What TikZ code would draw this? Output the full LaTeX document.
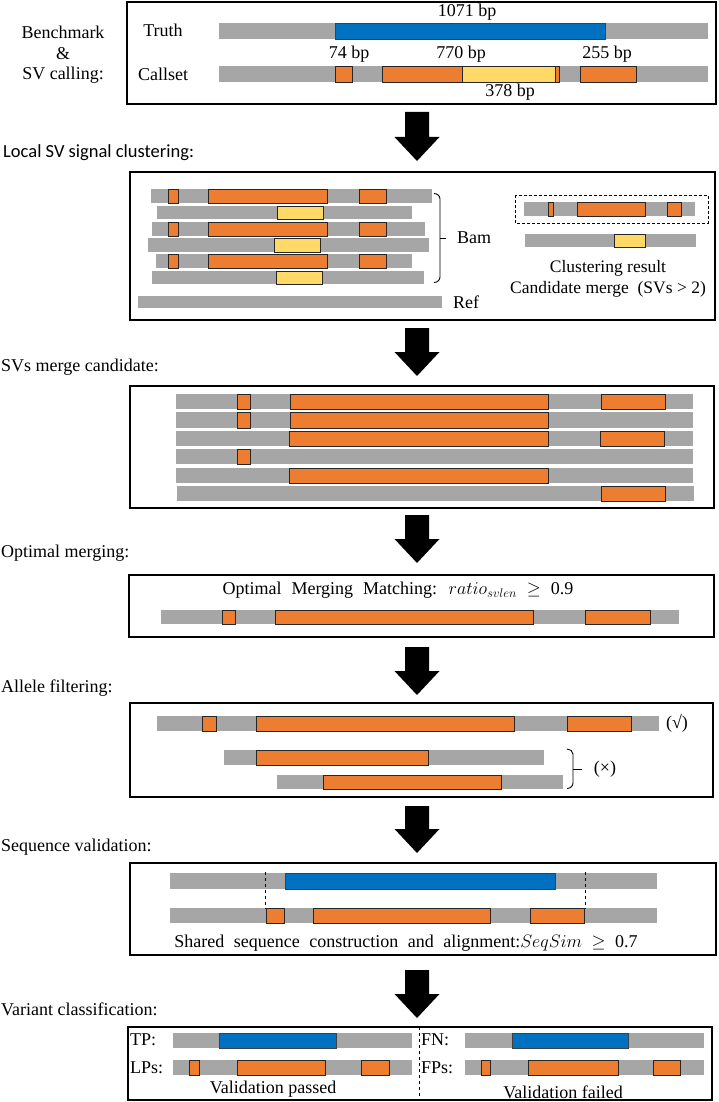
\documentclass[tikz,border=0pt]{standalone}
\usepackage{fix-cm}
\usepackage{fontspec}
\setmainfont{Liberation Serif}
\newfontfamily\calibrifont{Carlito}
\definecolor{grc}{HTML}{A6A6A6}
\definecolor{orc}{HTML}{ED7D31}
\definecolor{ylc}{HTML}{FFD966}
\definecolor{blc}{HTML}{0070C0}
\tikzset{
  graybar/.style={fill=grc},
  orangebox/.style={fill=orc, draw=black!85, line width=0.8pt},
  yellowbox/.style={fill=ylc, draw=black!85, line width=0.8pt},
  bluebox/.style={fill=blc, draw=black!75, line width=0.6pt},
  panel/.style={draw=black, line width=1.4pt},
  lbl/.style={font=\fontsize{18}{20}\selectfont, inner sep=0pt},
  sec/.style={lbl, anchor=west},
  blockarrow/.style={fill=black},
}
\newcommand\Gseg[4]{\fill[graybar] (#1,#3) rectangle (#2,#4);}
\newcommand\Oseg[4]{\filldraw[orangebox] (#1,#3) rectangle (#2,#4);}
\newcommand\Yseg[4]{\filldraw[yellowbox] (#1,#3) rectangle (#2,#4);}
\newcommand\Bseg[4]{\filldraw[bluebox] (#1,#3) rectangle (#2,#4);}
\newcommand\BigDownArrow[2]{\fill[blockarrow] (405,#1) -- (429,#1) -- (429,{#2-24}) -- (439.5,{#2-24}) -- (417,#2) -- (394.5,{#2-24}) -- (405,{#2-24}) -- cycle;}
\begin{document}
\begin{tikzpicture}[x=1pt,y=-1pt]
\useasboundingbox (0,0) rectangle (718,1102);
\fill[white] (0,0) rectangle (718,1102);

% ---------- Panel 1: Benchmark & SV calling
\draw[panel] (127,2) rectangle (716,104);
\node[lbl] (bm1) at (63,32) {Benchmark};
\node[lbl] (bm2) at (63,54) {\&};
\node[lbl] (bm3) at (63,75) {SV calling:};
\node[lbl] (truth) at (163,30) {Truth};
\node[lbl] (callset) at (163,74) {Callset};
\Gseg{219}{708}{23}{39}
\Bseg{335}{605}{23}{39}
\node[lbl] (l1071) at (467,12) {1071 bp};
\Gseg{219}{708}{66}{82}
\Oseg{335}{352.5}{66}{82}
\Oseg{382}{462}{66}{82}
\Yseg{462}{555}{66}{82}
\Oseg{555}{559}{66}{82}
\Oseg{580}{636}{66}{82}
\node[lbl] (l74) at (349,54) {74 bp};
\node[lbl] (l770) at (461,54) {770 bp};
\node[lbl] (l255) at (607,54) {255 bp};
\node[lbl] (l378) at (510,92) {378 bp};

\BigDownArrow{112}{161}

% ---------- Panel 2: Local SV signal clustering
\node[sec, font=\calibrifont\fontsize{18.5}{20}\selectfont] (s2) at (3,153) {Local SV signal clustering:};
\draw[panel] (130,172) rectangle (715,320);
\Gseg{151}{432}{189}{203}
\Oseg{168}{178}{189}{203}\Oseg{208}{327}{189}{203}\Oseg{359}{386}{189}{203}
\Gseg{157}{412}{206}{219}
\Yseg{277.5}{323}{206}{219}
\Gseg{152}{425}{222}{236}
\Oseg{168}{178}{222}{236}\Oseg{208}{327}{222}{236}\Oseg{359}{386}{222}{236}
\Gseg{147.5}{429}{238}{252}
\Yseg{274}{320}{238}{252}
\Gseg{156}{412}{254}{268}
\Oseg{168}{178}{254}{268}\Oseg{208}{327}{254}{268}\Oseg{359}{386}{254}{268}
\Gseg{151.5}{423.6}{271}{284}
\Yseg{276.6}{322}{271}{284}
\Gseg{138}{442}{296}{308}
\draw[line width=0.9pt] (434,193.5) to[out=0,in=90] (440,199) -- (440,277) to[out=-90,in=0] (434,282.5);
\draw[line width=0.9pt] (440,238) -- (446,238);
\node[lbl] (bam) at (474,238) {Bam};
\node[lbl] (ref) at (466,302) {Ref};
\draw[densely dashed, line width=0.6pt] (515,195) rectangle (708,223);
\Gseg{524}{695}{202}{216}
\Oseg{548}{553}{202}{216}\Oseg{577}{645}{202}{216}\Oseg{667}{681}{202}{216}
\Gseg{525}{696}{234}{247}
\Yseg{614}{645}{234}{247}
\node[lbl, font=\fontsize{17.5}{20}\selectfont] (clres) at (608,268) {Clustering result};
\node[lbl, font=\fontsize{17.5}{20}\selectfont] (cand) at (608,289) {Candidate merge~~(SVs > 2)};

\BigDownArrow{328}{376}

% ---------- Panel 3: SVs merge candidate
\node[sec] (s3) at (1,367) {SVs merge candidate:};
\draw[panel] (130,386) rectangle (714,508);
\Gseg{176}{693}{394}{409}
\Oseg{237}{250.5}{394}{409}\Oseg{290}{548.6}{394}{409}\Oseg{601}{665}{394}{409}
\Gseg{176}{693}{412}{428}
\Oseg{237}{250.5}{412}{428}\Oseg{290}{548.6}{412}{428}
\Gseg{176}{693}{431}{446}
\Oseg{289}{548}{431}{446}\Oseg{600}{664}{431}{446}
\Gseg{176}{693}{449}{464}
\Oseg{237}{250.5}{449}{464}
\Gseg{176}{693}{468}{483}
\Oseg{289}{548}{468}{483}
\Gseg{177}{694}{486}{501}
\Oseg{601}{665}{486}{501}

\BigDownArrow{515}{563}

% ---------- Panel 4: Optimal merging
\node[sec] (s4) at (1,553) {Optimal merging:};
\draw[panel] (129,575) rectangle (714,637);
\node[lbl] (omm) at (398,590) {\spaceskip=10pt\relax Optimal Merging Matching: $ratio_{svlen}$ $\geq$ 0.9};
\Gseg{161}{679}{610}{624}
\Oseg{222}{235.5}{610}{624}\Oseg{275.5}{533}{610}{624}\Oseg{585}{650}{610}{624}

\BigDownArrow{647}{695}

% ---------- Panel 5: Allele filtering
\node[sec] (s5) at (1,688) {Allele filtering:};
\draw[panel] (130,703) rectangle (713,797);
\Gseg{157}{659}{716}{731}
\Oseg{202}{216}{716}{731}\Oseg{256}{514}{716}{731}\Oseg{567}{631}{716}{731}
\node[lbl] (ok) at (677,723) {(√)};
\Gseg{224}{544}{750}{765}
\Oseg{256}{428}{750}{765}
\Gseg{277}{563}{775}{789}
\Oseg{323}{501.5}{775}{789}
\draw[line width=0.9pt] (567,749) to[out=0,in=90] (573,754) -- (573,783) to[out=-90,in=0] (567,788.5);
\draw[line width=0.9pt] (573,769) -- (582,769);
\node[lbl] (bad) at (605,769) {(×)};

\BigDownArrow{806}{853}

% ---------- Panel 6: Sequence validation
\node[sec] (s6) at (1,847) {Sequence validation:};
\draw[panel] (130,863) rectangle (716,955);
\Gseg{170}{657}{873}{889}
\Bseg{285}{555}{873}{889}
\Gseg{170}{657}{908}{923}
\Oseg{266.5}{284}{908}{923}\Oseg{313}{490}{908}{923}\Oseg{530}{584}{908}{923}
\coordinate (d1a) at (265.6,872); \coordinate (d1b) at (265.6,909);
\coordinate (d2a) at (585,872); \coordinate (d2b) at (585,909);
\draw[dashed, line width=1pt] (d1a) -- (d1b);
\draw[dashed, line width=1pt] (d2a) -- (d2b);
\node[lbl] (shared) at (406,943) {\spaceskip=9.5pt\relax Shared sequence construction and alignment:$SeqSim$ $\geq$ 0.7};

\BigDownArrow{970}{1018}

% ---------- Panel 7: Variant classification
\node[sec] (s7) at (1,1009) {Variant classification:};
\draw[panel] (128,1027) rectangle (712,1100);
\coordinate (va) at (419,1027); \coordinate (vb) at (419,1100);
\draw[dashed, line width=1pt] (va) -- (vb);
\node[lbl, anchor=west] (tp) at (130,1040) {TP:};
\Gseg{173}{412}{1033}{1048}
\Bseg{219}{336}{1033}{1048}
\node[lbl, anchor=west] (lps) at (130,1068) {LPs:};
\Gseg{173}{412}{1060}{1075}
\Oseg{189}{199}{1060}{1075}\Oseg{237}{325}{1060}{1075}\Oseg{361}{389}{1060}{1075}
\node[lbl] (vpass) at (273,1089) {Validation passed};
\node[lbl, anchor=west] (fn) at (421,1040) {FN:};
\Gseg{465}{704}{1033}{1048}
\Bseg{512}{628}{1033}{1048}
\node[lbl, anchor=west] (fps) at (421,1068) {FPs:};
\Gseg{465}{704}{1060}{1075}
\Oseg{481}{490}{1060}{1075}\Oseg{528.5}{618}{1060}{1075}\Oseg{653.5}{680}{1060}{1075}
\node[lbl] (vfail) at (563,1092) {Validation failed};
\end{tikzpicture}
\end{document}
